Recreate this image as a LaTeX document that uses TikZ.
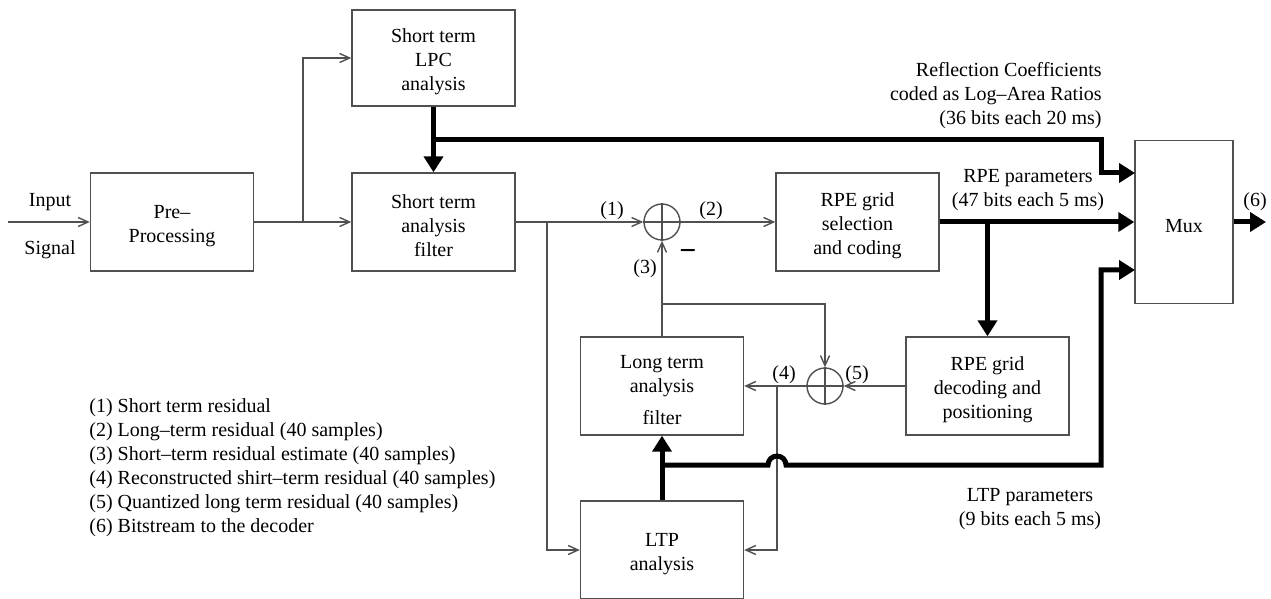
\documentclass[tikz,border=0pt]{standalone}
\usepackage{fontspec}
\setmainfont{Liberation Serif}
\usetikzlibrary{arrows.meta}
\definecolor{lineg}{RGB}{80,80,80}
\newcommand\tpad{\rule{0pt}{11pt}}
\begin{document}
\begin{tikzpicture}[x=0.5pt,y=-0.5pt,
  thinline/.style={draw=lineg, line width=0.7pt},
  tarr/.style={thinline, -{Straight Barb[length=5pt,width=4.5pt]}},
  bigline/.style={draw=black, line width=2.5pt},
  bigarr/.style={bigline, -{Triangle[length=8pt,width=9.5pt]}},
  blk/.style={draw=lineg, line width=0.7pt, minimum width=81.5pt, minimum height=49pt, align=center, inner sep=0pt, font=\fontsize{10}{12}\selectfont},
  sum/.style={circle, draw=lineg, line width=0.7pt, minimum size=18pt, inner sep=0pt},
  lbl/.style={inner sep=0pt, font=\fontsize{10}{12}\selectfont}
]
\fill[white] (0,0) rectangle (1271,599);
\useasboundingbox (0,0) rectangle (1271,599);

% blocks
\node[blk] (pre) at (172,222) {\tpad Pre--\\Processing};
\node[blk, minimum height=48pt] (lpc) at (433.5,58) {\tpad Short term\\LPC\\analysis};
\node[blk] (stf) at (433.5,222) {\tpad Short term\\analysis\\filter};
\node[blk] (rpes) at (857.5,222) {\tpad RPE grid\\selection\\and coding};
\node[blk, minimum width=49pt, minimum height=81.5pt] (mux) at (1184,222) {\tpad Mux};
\node[blk] (ltf) at (662,386) {\tpad Long term\\analysis\\[4pt]filter};
\node[blk] (rped) at (987.5,386) {\tpad RPE grid\\decoding and\\positioning};
\node[blk] (ltp) at (662,550) {\tpad LTP\\analysis};

% adders
\node[sum] (c1) at (662,222) {};
\node[sum] (c2) at (825,386) {};
\draw[thinline] (c1.north) -- (c1.south) (c1.west) -- (c1.east);
\draw[thinline] (c2.north) -- (c2.south) (c2.west) -- (c2.east);

% coordinates
\coordinate (in) at (8,222);
\coordinate (j1) at (303,222);
\coordinate (j2) at (547,222);
\coordinate (j3) at (662,304);
\coordinate (j4) at (777,386);
\coordinate (j5) at (987.5,222);
\coordinate (t1) at (433.5,140);
\coordinate (k1) at (1101,173);
\coordinate (m1) at (1135,173);
\coordinate (j6) at (662,465);
\coordinate (h1) at (768,465);
\coordinate (k3) at (1101,465);
\coordinate (m3) at (1135,270);
\coordinate (out) at (1266,222);

% thin connectors
\draw[tarr] (in) -- (pre.west);
\draw[tarr] (pre.east) -- (stf.west);
\draw[tarr] (j1) |- (lpc.west);
\draw[tarr] (stf.east) -- (c1.west);
\draw[tarr] (c1.east) -- (rpes.west);
\draw[tarr] (j2) |- (ltp.west);
\draw[tarr] (ltf.north) -- (c1.south);
\draw[tarr] (j3) -| (c2.north);
\draw[tarr] (rped.west) -- (c2.east);
\draw[tarr] (c2.west) -- (ltf.east);
\draw[tarr] (j4) |- (ltp.east);

% thick connectors
\draw[bigarr] (lpc.south) -- (stf.north);
\draw[bigarr] (t1) -| (k1) -- (m1);
\draw[bigarr] (rpes.east) -- (rpes.east -| mux.west);
\draw[bigarr] (j5) -- (rped.north);
\draw[bigarr] (ltp.north) -- (ltf.south);
\draw[bigarr] (j6) -- (h1) arc[start angle=180,end angle=0,radius=4.5pt] -- (k3) |- (m3);
\draw[bigarr] (mux.east) -- (out);

% labels
\node[lbl] (inp) at (50,202) {Input};
\node[lbl] (sig) at (50,250) {Signal};
\node[lbl] (l1) at (612,211) {(1)};
\node[lbl] (l2) at (711,211) {(2)};
\node[lbl] (l3) at (645,269) {(3)};
\node[lbl, font=\fontsize{15}{16}\selectfont\bfseries] (minus) at (688,255) {−};
\node[lbl] (l4) at (784,375) {(4)};
\node[lbl] (l5) at (857,375) {(5)};
\node[lbl] (l6) at (1255,202) {(6)};
\node[lbl, anchor=east, align=right] (refl) at (1102,96) {Reflection Coefficients\\coded as Log--Area Ratios\\(36 bits each 20 ms)};
\node[lbl, align=center] (rpep) at (1028,190) {RPE parameters\\(47 bits each 5 ms)};
\node[lbl, align=center] (ltpp) at (1030,509) {LTP parameters\\(9 bits each 5 ms)};
\node[lbl, anchor=west, align=left] (leg) at (89,468) {(1) Short term residual\\(2) Long--term residual (40 samples)\\(3) Short--term residual estimate (40 samples)\\(4) Reconstructed shirt--term residual (40 samples)\\(5) Quantized long term residual (40 samples)\\(6) Bitstream to the decoder};
\end{tikzpicture}
\end{document}
